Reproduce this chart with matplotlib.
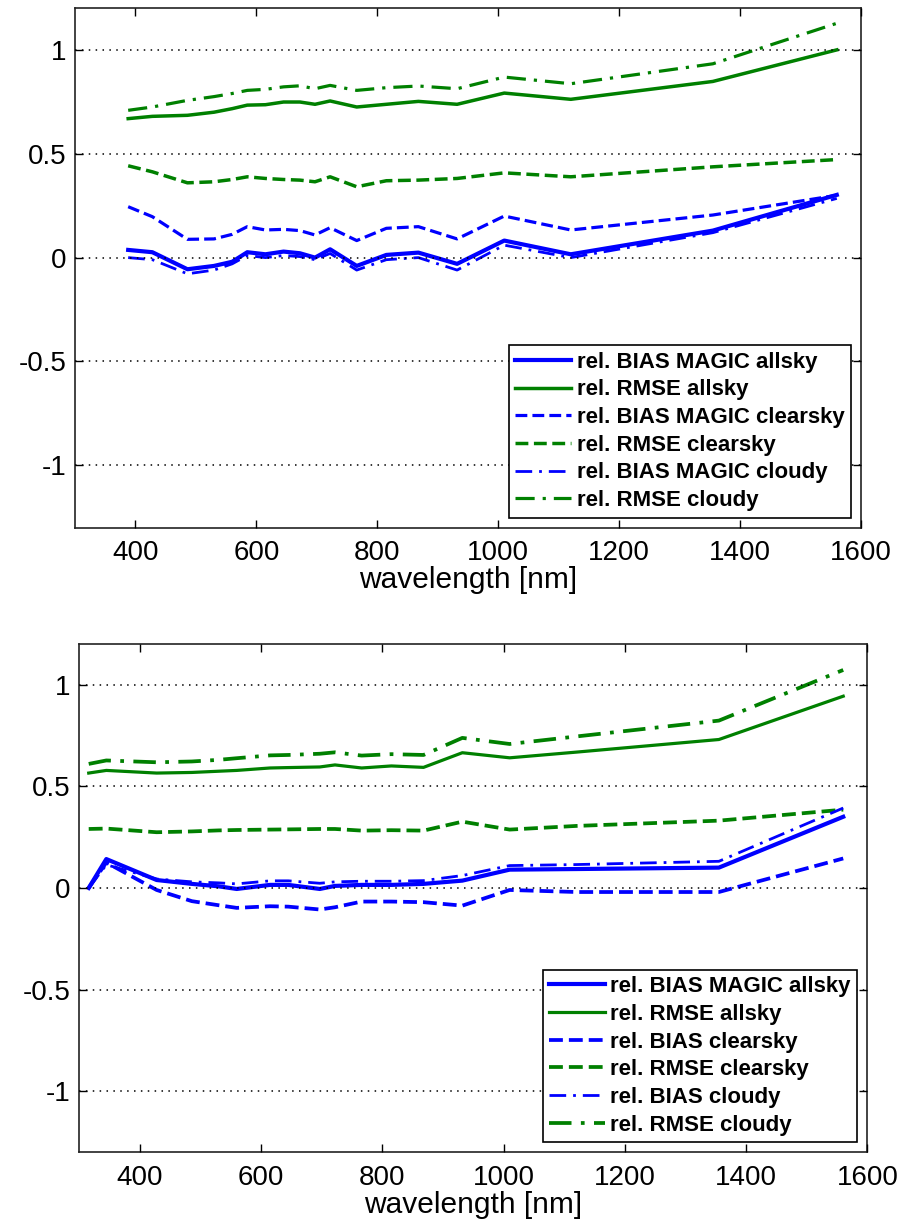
import matplotlib
matplotlib.use("Agg")
import matplotlib.pyplot as plt

plt.rcParams['font.family'] = ['Liberation Sans', 'DejaVu Sans']
plt.rcParams['axes.unicode_minus'] = False

# ---------------- data: top panel ----------------
wl_top = [388, 428, 486, 530, 560, 585, 615, 645, 672, 697, 722, 766, 815, 868, 932, 1010, 1120, 1355, 1560]
top_bias_all = [0.037, 0.026, -0.056, -0.040, -0.020, 0.026, 0.016, 0.029, 0.021, 0.000, 0.040, -0.040, 0.013, 0.024, -0.030, 0.082, 0.016, 0.130, 0.302]
top_rmse_all = [0.669, 0.680, 0.685, 0.700, 0.717, 0.734, 0.736, 0.749, 0.749, 0.738, 0.754, 0.725, 0.738, 0.752, 0.738, 0.792, 0.762, 0.848, 1.000]
top_bias_clear = [0.245, 0.197, 0.088, 0.090, 0.112, 0.149, 0.133, 0.136, 0.130, 0.109, 0.144, 0.082, 0.141, 0.149, 0.090, 0.200, 0.133, 0.205, 0.300]
top_rmse_clear = [0.442, 0.413, 0.360, 0.365, 0.376, 0.389, 0.381, 0.376, 0.373, 0.365, 0.389, 0.341, 0.370, 0.373, 0.381, 0.408, 0.389, 0.437, 0.472]
top_bias_cloudy = [0.000, -0.010, -0.078, -0.060, -0.030, 0.010, 0.000, 0.010, 0.005, -0.010, 0.020, -0.060, -0.010, 0.000, -0.060, 0.060, 0.000, 0.120, 0.285]
top_rmse_cloudy = [0.709, 0.725, 0.757, 0.775, 0.790, 0.805, 0.810, 0.822, 0.827, 0.813, 0.829, 0.805, 0.818, 0.826, 0.813, 0.869, 0.837, 0.933, 1.128]
top_labels = ['rel. BIAS MAGIC allsky', 'rel. RMSE allsky', 'rel. BIAS MAGIC clearsky',
              'rel. RMSE clearsky', 'rel. BIAS MAGIC cloudy', 'rel. RMSE cloudy']

# ---------------- data: bottom panel ----------------
wl_bot = [316, 345, 428, 486, 530, 560, 615, 645, 697, 722, 766, 815, 868, 932, 1010, 1120, 1355, 1560]
bot_bias_all = [0.000, 0.142, 0.039, 0.020, 0.008, -0.005, 0.015, 0.015, -0.005, 0.010, 0.015, 0.015, 0.020, 0.036, 0.090, 0.093, 0.100, 0.350]
bot_rmse_all = [0.565, 0.578, 0.565, 0.568, 0.574, 0.578, 0.590, 0.592, 0.595, 0.605, 0.590, 0.600, 0.593, 0.665, 0.640, 0.668, 0.730, 0.943]
bot_bias_clear = [0.000, 0.125, -0.010, -0.065, -0.085, -0.098, -0.090, -0.092, -0.106, -0.095, -0.067, -0.067, -0.070, -0.087, -0.010, -0.020, -0.020, 0.145]
bot_rmse_clear = [0.290, 0.292, 0.274, 0.278, 0.283, 0.285, 0.287, 0.288, 0.290, 0.290, 0.282, 0.284, 0.282, 0.326, 0.287, 0.305, 0.331, 0.385]
bot_bias_cloudy = [0.000, 0.114, 0.044, 0.030, 0.025, 0.020, 0.035, 0.035, 0.023, 0.030, 0.033, 0.033, 0.036, 0.061, 0.110, 0.115, 0.131, 0.393]
bot_rmse_cloudy = [0.610, 0.627, 0.618, 0.622, 0.630, 0.638, 0.652, 0.654, 0.660, 0.667, 0.651, 0.658, 0.654, 0.738, 0.708, 0.745, 0.823, 1.072]
bot_labels = ['rel. BIAS MAGIC allsky', 'rel. RMSE allsky', 'rel. BIAS clearsky',
              'rel. RMSE clearsky', 'rel. BIAS cloudy', 'rel. RMSE cloudy']

xticks = [400, 600, 800, 1000, 1200, 1400, 1600]
yticks = [-1, -0.5, 0, 0.5, 1]
yticklabels = ['-1', '-0.5', '0', '0.5', '1']

BLUE = (0, 0, 1)
GREEN = (0, 0.5, 0)

fig = plt.figure(figsize=(9.01, 12.24), dpi=100)
ax1 = fig.add_axes([0.0832, 0.5689, 0.9556 - 0.0832, 0.9932 - 0.5689])
ax2 = fig.add_axes([0.0877, 0.0586, 0.9628 - 0.0877, 0.4739 - 0.0586])

dashdot = (0, (6, 2.5, 1, 2.5))


def draw(ax, wl, series, labels, lws):
    styles = ['-', '-', '--', '--', dashdot, dashdot]
    colors = [BLUE, GREEN, BLUE, GREEN, BLUE, GREEN]
    for ys, lab, ls, c, lw in zip(series, labels, styles, colors, lws):
        ax.plot(wl, ys, linestyle=ls, color=c, lw=lw, label=lab)
    ax.set_xlim(300, 1600)
    ax.set_ylim(-1.3, 1.2)
    ax.set_xticks(xticks)
    ax.set_xticklabels([str(t) for t in xticks])
    ax.set_yticks(yticks)
    ax.set_yticklabels(yticklabels)
    ax.tick_params(axis='x', direction='in', top=True, length=5.5, width=1,
                   labelsize=20, pad=9)
    ax.tick_params(axis='y', direction='in', right=True, length=5.5, width=1,
                   labelsize=20, pad=6)
    ax.yaxis.grid(True, linestyle=(0, (1, 3.5)), color='k', lw=1.1)
    ax.set_axisbelow(False)
    for s in ax.spines.values():
        s.set_linewidth(1.2)
        s.set_color('#222222')
    ax.set_xlabel('wavelength [nm]', fontsize=21.5, labelpad=0)
    leg = ax.legend(loc='lower right', fancybox=False, edgecolor='k', framealpha=1,
                    prop={'weight': 'bold', 'size': 16}, handlelength=2.5,
                    handletextpad=0.25, labelspacing=0.3, borderpad=0.3,
                    borderaxespad=0.45)
    leg.get_frame().set_linewidth(1.2)


draw(ax1, wl_top, [top_bias_all, top_rmse_all, top_bias_clear, top_rmse_clear,
                   top_bias_cloudy, top_rmse_cloudy], top_labels,
     [3.0, 2.5, 2.3, 2.5, 2.0, 2.3])
draw(ax2, wl_bot, [bot_bias_all, bot_rmse_all, bot_bias_clear, bot_rmse_clear,
                   bot_bias_cloudy, bot_rmse_cloudy], bot_labels,
     [3.0, 2.3, 2.7, 2.7, 2.0, 2.7])

fig.savefig('out.png', dpi=100)
